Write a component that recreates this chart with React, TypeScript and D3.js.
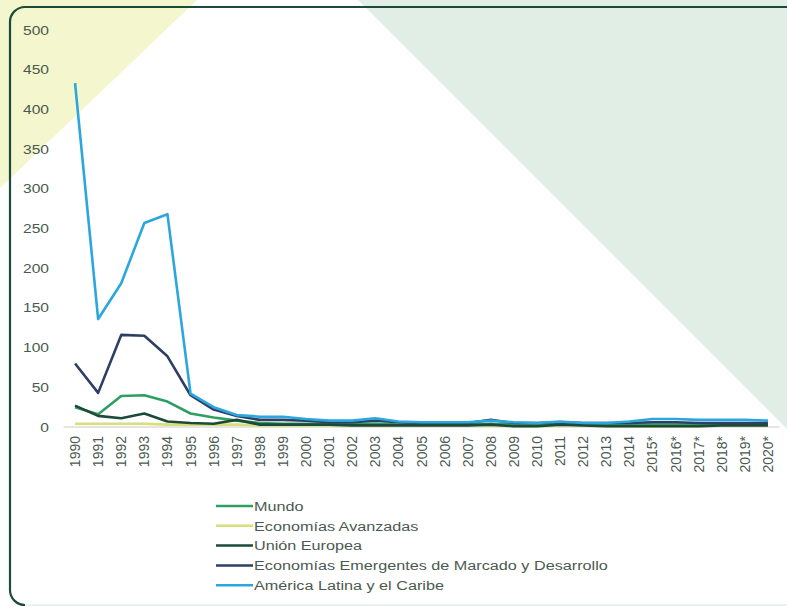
import React from "react";
import * as d3 from "d3";

const years = ["1990","1991","1992","1993","1994","1995","1996","1997","1998","1999","2000","2001","2002","2003","2004","2005","2006","2007","2008","2009","2010","2011","2012","2013","2014","2015*","2016*","2017*","2018*","2019*","2020*"];

const mundo = [25,16,39,40,32,17,12,8,5,4,4,4,4,4,3,3,3,3,4,3,3,3,3,3,3,3,3,3,3,3,3];
const avanzadas = [4,4,4,4,3,3,3,3,2,2,2,2,2,2,2,2,2,2,2,1,1,2,2,1,1,1,1,1,2,2,2];
const unionEuropea = [27,14,11,17,7,5,4,9,3,3,3,3,2,2,2,2,2,2,3,1,1,3,2,1,1,1,1,1,2,2,2];
const emergentes = [80,43,116,115,89,40,22,14,9,9,8,6,6,8,6,5,5,5,9,5,5,6,5,5,5,6,6,5,5,5,5];
const latina = [433,136,181,257,268,42,25,15,13,13,10,8,8,11,7,6,6,6,8,6,5,7,5,5,7,10,10,9,9,9,8];

const yTicks = [0,50,100,150,200,250,300,350,400,450,500];

const seriesNames = ["Mundo","Economías Avanzadas","Unión Europea","Economías Emergentes de Marcado y Desarrollo","América Latina y el Caribe"];
const seriesData = [mundo, avanzadas, unionEuropea, emergentes, latina];
const seriesColors = ["#2f9e63","#d8de78","#1d4a36","#2e3f66","#2ba6de"];
const drawOrder = [1,0,2,3,4];

export default function App() {
  const W = 787, H = 607;
  const x = d3.scaleBand<string>().domain(years).range([63.5, 779.5]);
  const y = d3.scaleLinear().domain([0, 500]).range([427, 30]);
  const cx = (i: number) => (x(years[i]) as number) + x.bandwidth() / 2;
  const line = d3.line<number>().x((_, i) => cx(i)).y(d => y(d));
  const font = "'Liberation Sans', Arial, sans-serif";
  const textColor = "#4a5a50";

  return (
    <svg width={W} height={H} style={{ position: "absolute", left: 0, top: 0, display: "block", background: "#fff" }}>
      <polygon points="0,0 197,0 0,188" fill="#f4f6cd" />
      <polygon points="358,0 787,0 787,429" fill="#e1eee6" />
      <path d="M 787 7 H 25 A 15 15 0 0 0 10 22 V 590 A 15 15 0 0 0 25 605" fill="none" stroke="#1e4a3b" strokeWidth={2.2} />
      <path d="M 25 605 H 787" fill="none" stroke="#e3efea" strokeWidth={1.5} />

      <line x1={63.5} x2={779.5} y1={y(0)} y2={y(0)} stroke="#c8cbc9" strokeWidth={1} />

      {yTicks.map(t => (
        <g key={t} transform={`translate(49,${y(t)}) scale(1.2,1)`}>
          <text x={0} y={0} dy="0.35em" textAnchor="end" fontFamily={font} fontSize={13} fill={textColor}>{t}</text>
        </g>
      ))}

      {years.map((yr, i) => (
        <text key={yr} transform={`translate(${cx(i) + 5},${436}) rotate(-90) scale(1,1.1)`} textAnchor="end" fontFamily={font} fontSize={14} fill={textColor}>{yr}</text>
      ))}

      {drawOrder.map(k => (
        <path key={k} d={line(seriesData[k]) || ""} fill="none" stroke={seriesColors[k]} strokeWidth={2.6} strokeLinejoin="round" />
      ))}

      {seriesNames.map((n, k) => (
        <g key={n} transform={`translate(216,${506 + k * 19.8})`}>
          <line x1={0} x2={37} y1={0} y2={0} stroke={seriesColors[k]} strokeWidth={2.5} />
          <g transform="translate(38,0) scale(1.2,1)">
            <text x={0} y={0} dy="0.35em" fontFamily={font} fontSize={13.5} fill={textColor}>{n}</text>
          </g>
        </g>
      ))}
    </svg>
  );
}
